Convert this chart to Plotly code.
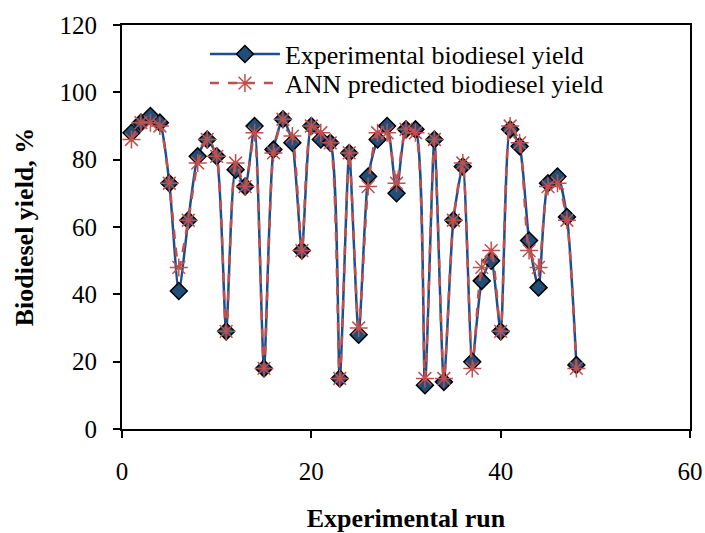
import plotly.graph_objects as go

runs = list(range(1, 49))
experimental = [88, 91, 93, 91, 73, 41, 62, 81, 86, 81, 29, 77, 72, 90, 18, 83,
                92, 85, 53, 90, 86, 85, 15, 82, 28, 75, 86, 90, 70, 89, 89, 13,
                86, 14, 62, 78, 20, 44, 50, 29, 89, 84, 56, 42, 73, 75, 63, 19]
ann_predicted = [86, 91, 91, 90, 73, 48, 62, 79, 86, 81, 29, 79, 72, 88, 18, 82,
                 92, 87, 53, 90, 88, 85, 15, 82, 30, 72, 88, 88, 73, 89, 88, 15,
                 86, 15, 62, 79, 18, 48, 53, 29, 90, 85, 53, 48, 72, 73, 62, 18]

FONT = "Liberation Serif"

fig = go.Figure()
fig.add_trace(go.Scatter(
    x=runs, y=experimental, name="Experimental biodiesel yield",
    mode="lines+markers", legend="legend",
    line=dict(color="#1F4E8C", width=2.5, shape="spline", smoothing=0.6),
    marker=dict(symbol="diamond", size=13, color="#1F4E79",
                line=dict(color="black", width=1.5)),
))
fig.add_trace(go.Scatter(
    x=runs, y=ann_predicted, name="ANN predicted biodiesel yield",
    mode="lines+markers", legend="legend2",
    line=dict(color="#C0504D", width=2.5, dash="dash", shape="spline", smoothing=0.6),
    marker=dict(symbol="asterisk-open", size=15, color="#C0504D",
                line=dict(color="#C0504D", width=1.5)),
))

axis_common = dict(
    showgrid=False, zeroline=False, showline=True, linecolor="black", linewidth=2,
    mirror=True, ticks="outside", ticklen=7, tickwidth=1.5, tickcolor="black",
    automargin=False,
    tickfont=dict(family=FONT, size=25, color="black"),
)
fig.update_xaxes(range=[0, 60], dtick=20, ticklabelstandoff=12, **axis_common,
                 title=dict(text="<b>Experimental run</b>",
                            font=dict(family=FONT, size=26, color="black"),
                            standoff=30))
fig.update_yaxes(range=[0, 120], dtick=20, ticklabelstandoff=11, **axis_common,
                 title=dict(text="<b>Biodiesel yield, %</b>",
                            font=dict(family=FONT, size=26, color="black"),
                            standoff=18))

leg_common = dict(xanchor="left", yanchor="middle", bgcolor="rgba(0,0,0,0)",
                  itemwidth=70, font=dict(family=FONT, size=26, color="black"))
fig.update_layout(
    width=705, height=533,
    margin=dict(l=122, r=15, t=25, b=104, autoexpand=False),
    paper_bgcolor="white", plot_bgcolor="white",
    showlegend=True,
    legend=dict(x=0.146, y=0.928, **leg_common),
    legend2=dict(x=0.146, y=0.856, **leg_common),
)

fig.write_html("out.html", config={"displayModeBar": False},
               post_script="document.body.style.margin='0';document.body.style.overflow='hidden';")
